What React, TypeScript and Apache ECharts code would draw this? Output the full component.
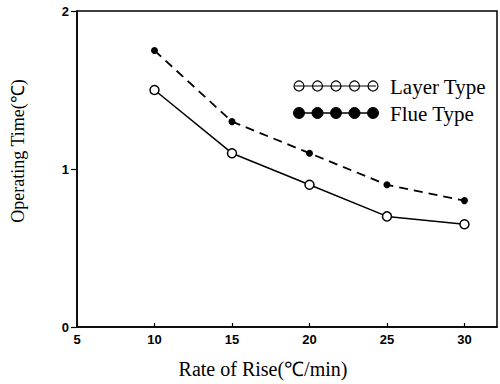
import React, { useEffect, useRef } from "react";
import * as echarts from "echarts";

const rates = [10, 15, 20, 25, 30];
const layerType = [1.5, 1.1, 0.9, 0.7, 0.65];
const flueType = [1.75, 1.3, 1.1, 0.9, 0.8];
const seriesNames = ["Layer Type", "Flue Type"];
const xTitle = "Rate of Rise(℃/min)";
const yTitle = "Operating Time(℃)";

export default function App() {
  const ref = useRef<HTMLDivElement>(null);
  useEffect(() => {
    const chart = echarts.init(ref.current!, null, { renderer: "svg" });
    const serif = "'Liberation Serif', 'Times New Roman', serif";
    const tickFont = { fontFamily: "'Liberation Sans', Arial, sans-serif", fontWeight: "bold" as const, fontSize: 13, color: "#000" };
    const legendCircles = (y: number, filled: boolean, r: number) =>
      [0, 1, 2, 3, 4].map((i) => ({
        type: "circle",
        shape: { cx: 299 + i * 18.5, cy: y, r },
        style: filled ? { fill: "#000", stroke: "#000", lineWidth: 1 } : { fill: "none", stroke: "#000", lineWidth: 1.2 },
      }));
    chart.setOption({
      animation: false,
      backgroundColor: "#fff",
      grid: { left: 77, right: 3, top: 11, bottom: 56, show: true, borderColor: "#000", borderWidth: 1.5 },
      xAxis: {
        type: "value",
        min: 5,
        max: 32.1,
        interval: 5,
        name: xTitle,
        nameLocation: "middle",
        nameGap: 32,
        nameTextStyle: { fontFamily: serif, fontSize: 20, color: "#000", padding: [0, 48, 0, 0] },
        axisLine: { lineStyle: { color: "#000", width: 1.5 } },
        axisTick: { inside: true, length: 4, lineStyle: { color: "#000", width: 1.2 } },
        axisLabel: { ...tickFont, margin: 6, showMaxLabel: false },
        splitLine: { show: false },
      },
      yAxis: {
        type: "value",
        min: 0,
        max: 2,
        interval: 1,
        name: yTitle,
        nameLocation: "middle",
        nameRotate: 90,
        nameGap: 50,
        nameTextStyle: { fontFamily: serif, fontSize: 18, color: "#000", padding: [0, 0, 0, 36] },
        axisLine: { show: true, lineStyle: { color: "#000", width: 1.5 } },
        axisTick: { show: true, length: 6, lineStyle: { color: "#000", width: 1.2 } },
        axisLabel: { ...tickFont, margin: 8 },
        splitLine: { show: false },
      },
      series: [
        {
          name: seriesNames[0],
          type: "line",
          data: rates.map((x, i) => [x, layerType[i]]),
          symbol: "circle",
          symbolSize: 9,
          itemStyle: { color: "#fff", borderColor: "#000", borderWidth: 1.5 },
          lineStyle: { color: "#000", width: 1.5, type: "solid" },
        },
        {
          name: seriesNames[1],
          type: "line",
          data: rates.map((x, i) => [x, flueType[i]]),
          symbol: "circle",
          symbolSize: 7,
          itemStyle: { color: "#000", borderColor: "#000", borderWidth: 0 },
          lineStyle: { color: "#000", width: 1.8, type: [9, 6] },
        },
      ],
      graphic: [
        { type: "line", shape: { x1: 295, y1: 86, x2: 376, y2: 86 }, style: { stroke: "#000", lineWidth: 1.2 } },
        ...legendCircles(86, false, 5),
        { type: "text", x: 390, y: 87, style: { text: seriesNames[0], font: `21px ${serif}`, fill: "#000", verticalAlign: "middle", textAlign: "left" } },
        { type: "line", shape: { x1: 295, y1: 113, x2: 376, y2: 113 }, style: { stroke: "#000", lineWidth: 1.5 } },
        ...legendCircles(113, true, 5.5),
        { type: "text", x: 390, y: 114, style: { text: seriesNames[1], font: `21px ${serif}`, fill: "#000", verticalAlign: "middle", textAlign: "left" } },
      ],
    });
    return () => chart.dispose();
  }, []);
  return <div ref={ref} style={{ width: 500, height: 384, position: "absolute", left: 0, top: 0 }} />;
}
